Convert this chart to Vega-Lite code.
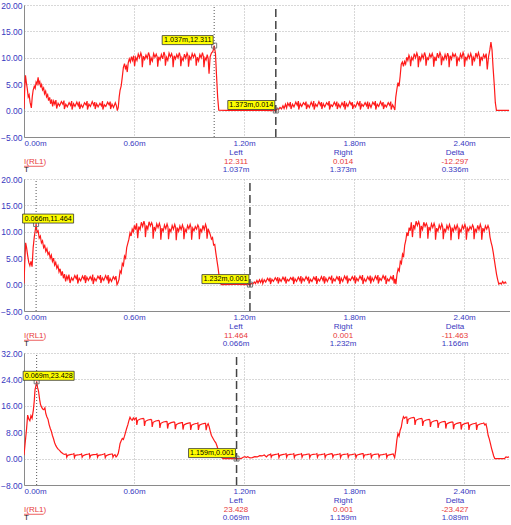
{
"$schema":"https://vega.github.io/schema/vega-lite/v6.json",
"padding":{"top":1,"left":0,"right":0,"bottom":0},
"background":"#ffffff",
"config":{"view":{"stroke":null},
"axis":{"labelFont":"Liberation Sans","labelColor":"#3838c0","domainColor":"#8a8a8a","domainWidth":1,"gridColor":"#b0b0b0","gridDash":[1,2],"gridWidth":1,"ticks":false,"labelPadding":2},
"axisX":{"labelFontSize":8},"axisY":{"labelFontSize":8.5},
"text":{"font":"Liberation Sans"}},
"datasets":{
"c1":[{"c":"L","t":1.037,"v":12.311,"lab":"1.037m,12.311"},{"c":"R","t":1.373,"v":0.014,"lab":"1.373m,0.014"}],
"c2":[{"c":"L","t":0.066,"v":11.464,"lab":"0.066m,11.464"},{"c":"R","t":1.232,"v":0.001,"lab":"1.232m,0.001"}],
"c3":[{"c":"L","t":0.069,"v":23.428,"lab":"0.069m,23.428"},{"c":"R","t":1.159,"v":0.001,"lab":"1.159m,0.001"}],
"r1":[{"col":"L","row":"h","k":"b","txt":"Left"},{"col":"L","row":"v","k":"r","txt":"12.311"},{"col":"L","row":"t","k":"b","txt":"1.037m"},{"col":"R","row":"h","k":"b","txt":"Right"},{"col":"R","row":"v","k":"r","txt":"0.014"},{"col":"R","row":"t","k":"b","txt":"1.373m"},{"col":"D","row":"h","k":"b","txt":"Delta"},{"col":"D","row":"v","k":"r","txt":"-12.297"},{"col":"D","row":"t","k":"b","txt":"0.336m"},{"col":"N","row":"v","k":"r","txt":"I(RL1)"},{"col":"N","row":"t","k":"d","txt":"T"}],
"r2":[{"col":"L","row":"h","k":"b","txt":"Left"},{"col":"L","row":"v","k":"r","txt":"11.464"},{"col":"L","row":"t","k":"b","txt":"0.066m"},{"col":"R","row":"h","k":"b","txt":"Right"},{"col":"R","row":"v","k":"r","txt":"0.001"},{"col":"R","row":"t","k":"b","txt":"1.232m"},{"col":"D","row":"h","k":"b","txt":"Delta"},{"col":"D","row":"v","k":"r","txt":"-11.463"},{"col":"D","row":"t","k":"b","txt":"1.166m"},{"col":"N","row":"v","k":"r","txt":"I(RL1)"},{"col":"N","row":"t","k":"d","txt":"T"}],
"r3":[{"col":"L","row":"h","k":"b","txt":"Left"},{"col":"L","row":"v","k":"r","txt":"23.428"},{"col":"L","row":"t","k":"b","txt":"0.069m"},{"col":"R","row":"h","k":"b","txt":"Right"},{"col":"R","row":"v","k":"r","txt":"0.001"},{"col":"R","row":"t","k":"b","txt":"1.159m"},{"col":"D","row":"h","k":"b","txt":"Delta"},{"col":"D","row":"v","k":"r","txt":"-23.427"},{"col":"D","row":"t","k":"b","txt":"1.089m"},{"col":"N","row":"v","k":"r","txt":"I(RL1)"},{"col":"N","row":"t","k":"d","txt":"T"}],
"w1":[{"t":0,"v":0.3},{"t":0.004,"v":4.2},{"t":0.008,"v":6.7},{"t":0.013,"v":5.3},{"t":0.018,"v":4.1},{"t":0.023,"v":2.6},{"t":0.028,"v":3.0},{"t":0.033,"v":1.6},{"t":0.040,"v":0.5},{"t":0.045,"v":2.6},{"t":0.050,"v":3.9},{"t":0.056,"v":4.6},{"t":0.061,"v":4.2},{"t":0.066,"v":5.4},{"t":0.071,"v":5.0},{"t":0.077,"v":6.3},{"t":0.081,"v":5.1},{"t":0.086,"v":5.5},{"t":0.091,"v":4.4},{"t":0.096,"v":4.9},{"t":0.101,"v":3.9},{"t":0.107,"v":4.3},{"t":0.112,"v":3.2},{"t":0.118,"v":3.7},{"t":0.123,"v":2.6},{"t":0.129,"v":3.0},{"t":0.134,"v":1.9},{"t":0.140,"v":2.5},{"t":0.145,"v":1.3},{"t":0.151,"v":2.1},{"t":0.156,"v":0.8},{"t":0.162,"v":1.8},{"t":0.168,"v":1.2},{"t":0.174,"v":2.0},
{"t":0.178,"v":0.4},{"t":0.186,"v":1.4},{"t":0.194,"v":0.9},{"t":0.204,"v":1.7},{"t":0.212,"v":1.2},{"t":0.218,"v":1.9},
{"t":0.220,"v":0.3},{"t":0.228,"v":1.2},{"t":0.236,"v":0.7},{"t":0.246,"v":1.5},{"t":0.254,"v":1.0},{"t":0.260,"v":1.8},
{"t":0.262,"v":0.2},{"t":0.270,"v":1.3},{"t":0.278,"v":0.8},{"t":0.288,"v":1.6},{"t":0.296,"v":0.9},{"t":0.302,"v":1.7},
{"t":0.304,"v":0.3},{"t":0.312,"v":1.1},{"t":0.320,"v":0.6},{"t":0.330,"v":1.5},{"t":0.338,"v":1.1},{"t":0.344,"v":1.8},
{"t":0.346,"v":0.2},{"t":0.354,"v":1.2},{"t":0.362,"v":0.8},{"t":0.372,"v":1.7},{"t":0.380,"v":1.0},{"t":0.386,"v":1.6},
{"t":0.388,"v":0.3},{"t":0.396,"v":1.3},{"t":0.404,"v":0.7},{"t":0.414,"v":1.4},{"t":0.422,"v":0.9},{"t":0.428,"v":1.8},
{"t":0.430,"v":0.2},{"t":0.438,"v":1.1},{"t":0.446,"v":0.8},{"t":0.456,"v":1.6},{"t":0.464,"v":1.1},{"t":0.470,"v":1.7},
{"t":0.472,"v":0.3},{"t":0.480,"v":1.2},{"t":0.488,"v":0.6},{"t":0.498,"v":1.5},{"t":0.504,"v":0.9},{"t":0.509,"v":0.0},
{"t":0.514,"v":0.6},{"t":0.519,"v":2.6},{"t":0.524,"v":3.9},{"t":0.530,"v":4.7},{"t":0.536,"v":6.4},{"t":0.542,"v":8.2},{"t":0.548,"v":8.9},{"t":0.553,"v":8.0},{"t":0.558,"v":8.4},{"t":0.563,"v":7.3},{"t":0.568,"v":9.0},{"t":0.574,"v":9.8},{"t":0.580,"v":9.2},{"t":0.586,"v":10.2},{"t":0.592,"v":9.5},{"t":0.598,"v":10.4},
{"t":0.603,"v":8.4},{"t":0.609,"v":10.1},{"t":0.616,"v":9.5},{"t":0.623,"v":10.7},{"t":0.630,"v":10.0},{"t":0.637,"v":10.9},{"t":0.642,"v":10.3},
{"t":0.645,"v":8.2},{"t":0.651,"v":10.3},{"t":0.658,"v":9.7},{"t":0.665,"v":10.5},{"t":0.672,"v":9.9},{"t":0.679,"v":11.0},{"t":0.684,"v":10.4},
{"t":0.687,"v":8.6},{"t":0.693,"v":10.0},{"t":0.700,"v":9.4},{"t":0.707,"v":10.8},{"t":0.714,"v":10.1},{"t":0.721,"v":10.7},{"t":0.726,"v":10.2},
{"t":0.729,"v":8.3},{"t":0.735,"v":10.2},{"t":0.742,"v":9.6},{"t":0.749,"v":10.6},{"t":0.756,"v":9.8},{"t":0.763,"v":11.1},{"t":0.768,"v":10.5},
{"t":0.771,"v":8.5},{"t":0.777,"v":10.1},{"t":0.784,"v":9.5},{"t":0.791,"v":10.9},{"t":0.798,"v":10.2},{"t":0.805,"v":10.8},{"t":0.810,"v":10.1},
{"t":0.813,"v":8.2},{"t":0.819,"v":10.4},{"t":0.826,"v":9.8},{"t":0.833,"v":10.6},{"t":0.840,"v":10.0},{"t":0.847,"v":11.0},{"t":0.852,"v":10.3},
{"t":0.855,"v":8.4},{"t":0.861,"v":10.0},{"t":0.868,"v":9.5},{"t":0.875,"v":10.7},{"t":0.882,"v":9.9},{"t":0.889,"v":10.9},{"t":0.894,"v":10.4},
{"t":0.897,"v":8.3},{"t":0.903,"v":10.2},{"t":0.910,"v":9.7},{"t":0.917,"v":10.8},{"t":0.924,"v":10.1},{"t":0.931,"v":10.7},{"t":0.936,"v":10.2},
{"t":0.939,"v":8.5},{"t":0.945,"v":10.1},{"t":0.952,"v":9.4},{"t":0.959,"v":10.6},{"t":0.966,"v":10.0},{"t":0.973,"v":11.0},{"t":0.978,"v":10.3},
{"t":0.981,"v":8.2},{"t":0.987,"v":10.0},{"t":0.993,"v":9.6},{"t":0.999,"v":10.6},{"t":1.004,"v":9.9},{"t":1.009,"v":7.0},{"t":1.015,"v":10.2},{"t":1.022,"v":10.9},{"t":1.030,"v":11.2},{"t":1.037,"v":12.311},{"t":1.044,"v":10.8},{"t":1.050,"v":6.5},{"t":1.056,"v":2.5},{"t":1.062,"v":0.1},{"t":1.100,"v":0.05},{"t":1.200,"v":0.03},{"t":1.300,"v":0.05},{"t":1.373,"v":0.014},
{"t":1.380,"v":0.4},{"t":1.388,"v":0.2},{"t":1.396,"v":0.6},{"t":1.404,"v":0.3},{"t":1.412,"v":0.9},{"t":1.418,"v":0.4},{"t":1.426,"v":1.2},{"t":1.432,"v":0.5},{"t":1.438,"v":1.4},{"t":1.446,"v":0.9},{"t":1.452,"v":1.6},
{"t":1.456,"v":0.3},{"t":1.464,"v":1.2},{"t":1.472,"v":0.7},{"t":1.482,"v":1.6},{"t":1.490,"v":1.0},{"t":1.496,"v":1.8},
{"t":1.498,"v":0.2},{"t":1.506,"v":1.3},{"t":1.514,"v":0.8},{"t":1.524,"v":1.5},{"t":1.532,"v":1.1},{"t":1.538,"v":1.7},
{"t":1.540,"v":0.3},{"t":1.548,"v":1.1},{"t":1.556,"v":0.6},{"t":1.566,"v":1.6},{"t":1.574,"v":0.9},{"t":1.580,"v":1.8},
{"t":1.582,"v":0.2},{"t":1.590,"v":1.2},{"t":1.598,"v":0.8},{"t":1.608,"v":1.7},{"t":1.616,"v":1.0},{"t":1.622,"v":1.6},
{"t":1.624,"v":0.3},{"t":1.632,"v":1.3},{"t":1.640,"v":0.7},{"t":1.650,"v":1.5},{"t":1.658,"v":1.1},{"t":1.664,"v":1.8},
{"t":1.666,"v":0.2},{"t":1.674,"v":1.1},{"t":1.682,"v":0.8},{"t":1.692,"v":1.6},{"t":1.700,"v":1.0},{"t":1.706,"v":1.7},
{"t":1.708,"v":0.3},{"t":1.716,"v":1.2},{"t":1.724,"v":0.6},{"t":1.734,"v":1.5},{"t":1.742,"v":0.9},{"t":1.748,"v":1.8},
{"t":1.750,"v":0.2},{"t":1.758,"v":1.3},{"t":1.766,"v":0.8},{"t":1.776,"v":1.7},{"t":1.784,"v":1.1},{"t":1.790,"v":1.6},
{"t":1.792,"v":0.3},{"t":1.800,"v":1.1},{"t":1.808,"v":0.7},{"t":1.818,"v":1.6},{"t":1.826,"v":1.0},{"t":1.832,"v":1.8},
{"t":1.834,"v":0.2},{"t":1.842,"v":1.2},{"t":1.850,"v":0.8},{"t":1.860,"v":1.5},{"t":1.868,"v":0.9},{"t":1.874,"v":1.7},
{"t":1.876,"v":0.3},{"t":1.884,"v":1.3},{"t":1.892,"v":0.6},{"t":1.902,"v":1.6},{"t":1.910,"v":1.1},{"t":1.916,"v":1.8},
{"t":1.918,"v":0.2},{"t":1.926,"v":1.2},{"t":1.934,"v":0.8},{"t":1.944,"v":1.7},{"t":1.952,"v":1.0},{"t":1.958,"v":1.6},
{"t":1.960,"v":0.3},{"t":1.968,"v":1.1},{"t":1.976,"v":0.7},{"t":1.986,"v":1.5},{"t":1.994,"v":1.0},{"t":2.000,"v":1.7},
{"t":2.002,"v":0.2},{"t":2.010,"v":1.1},{"t":2.017,"v":0.6},{"t":2.022,"v":0.1},
{"t":2.027,"v":2.5},{"t":2.033,"v":4.0},{"t":2.039,"v":5.3},{"t":2.045,"v":4.6},{"t":2.051,"v":6.5},{"t":2.057,"v":8.8},{"t":2.063,"v":9.2},{"t":2.069,"v":8.4},{"t":2.075,"v":9.3},{"t":2.081,"v":8.8},{"t":2.087,"v":10.1},{"t":2.093,"v":9.5},{"t":2.099,"v":10.5},{"t":2.104,"v":10.0},
{"t":2.108,"v":8.4},{"t":2.114,"v":10.1},{"t":2.121,"v":9.6},{"t":2.128,"v":10.8},{"t":2.135,"v":10.0},{"t":2.142,"v":10.9},{"t":2.147,"v":10.3},
{"t":2.150,"v":8.2},{"t":2.156,"v":10.3},{"t":2.163,"v":9.5},{"t":2.170,"v":10.6},{"t":2.177,"v":9.9},{"t":2.184,"v":11.0},{"t":2.189,"v":10.4},
{"t":2.192,"v":8.5},{"t":2.198,"v":10.0},{"t":2.205,"v":9.7},{"t":2.212,"v":10.7},{"t":2.219,"v":10.1},{"t":2.226,"v":10.8},{"t":2.231,"v":10.2},
{"t":2.234,"v":8.3},{"t":2.240,"v":10.2},{"t":2.247,"v":9.4},{"t":2.254,"v":10.9},{"t":2.261,"v":10.0},{"t":2.268,"v":11.0},{"t":2.273,"v":10.5},
{"t":2.276,"v":8.6},{"t":2.282,"v":10.1},{"t":2.289,"v":9.6},{"t":2.296,"v":10.6},{"t":2.303,"v":9.8},{"t":2.310,"v":10.9},{"t":2.315,"v":10.3},
{"t":2.318,"v":8.2},{"t":2.324,"v":10.4},{"t":2.331,"v":9.7},{"t":2.338,"v":10.8},{"t":2.345,"v":10.2},{"t":2.352,"v":10.7},{"t":2.357,"v":10.1},
{"t":2.360,"v":8.4},{"t":2.366,"v":10.0},{"t":2.373,"v":9.5},{"t":2.380,"v":10.7},{"t":2.387,"v":10.0},{"t":2.394,"v":11.0},{"t":2.399,"v":10.4},
{"t":2.402,"v":8.3},{"t":2.408,"v":10.2},{"t":2.415,"v":9.6},{"t":2.422,"v":10.6},{"t":2.429,"v":9.9},{"t":2.436,"v":10.8},{"t":2.441,"v":10.2},
{"t":2.444,"v":8.5},{"t":2.450,"v":10.1},{"t":2.457,"v":9.5},{"t":2.464,"v":10.9},{"t":2.471,"v":10.1},{"t":2.478,"v":11.0},{"t":2.483,"v":10.3},
{"t":2.486,"v":8.4},{"t":2.492,"v":10.2},{"t":2.499,"v":9.6},{"t":2.506,"v":10.6},{"t":2.513,"v":10.0},{"t":2.520,"v":10.8},{"t":2.526,"v":7.8},{"t":2.533,"v":10.2},{"t":2.540,"v":11.5},{"t":2.546,"v":13.0},{"t":2.552,"v":11.5},{"t":2.558,"v":8.0},{"t":2.564,"v":5.0},{"t":2.570,"v":1.5},{"t":2.576,"v":0.05},{"t":2.645,"v":0.05}],
"w2":[{"t":0,"v":0.2},{"t":0.004,"v":4.0},{"t":0.009,"v":7.9},{"t":0.014,"v":7.0},{"t":0.020,"v":5.5},{"t":0.026,"v":4.2},{"t":0.032,"v":3.6},{"t":0.038,"v":4.4},{"t":0.044,"v":3.4},{"t":0.050,"v":7.0},{"t":0.056,"v":9.0},{"t":0.061,"v":10.2},{"t":0.066,"v":11.464},{"t":0.071,"v":9.9},{"t":0.077,"v":10.2},{"t":0.083,"v":8.8},{"t":0.089,"v":9.2},{"t":0.095,"v":7.9},{"t":0.101,"v":8.3},{"t":0.107,"v":7.0},{"t":0.113,"v":7.4},{"t":0.119,"v":6.3},{"t":0.125,"v":6.8},{"t":0.131,"v":5.7},{"t":0.137,"v":6.1},{"t":0.143,"v":5.0},{"t":0.149,"v":5.6},{"t":0.155,"v":4.4},{"t":0.161,"v":5.0},{"t":0.167,"v":3.7},{"t":0.173,"v":4.2},{"t":0.179,"v":3.1},{"t":0.185,"v":3.6},{"t":0.191,"v":2.4},{"t":0.197,"v":3.0},{"t":0.203,"v":1.7},{"t":0.209,"v":2.5},{"t":0.215,"v":1.2},{"t":0.221,"v":2.0},{"t":0.227,"v":0.6},{"t":0.233,"v":1.6},{"t":0.239,"v":1.0},{"t":0.245,"v":1.9},
{"t":0.251,"v":0.3},{"t":0.259,"v":1.3},{"t":0.267,"v":0.8},{"t":0.277,"v":1.7},{"t":0.285,"v":1.1},{"t":0.291,"v":1.9},
{"t":0.293,"v":0.2},{"t":0.301,"v":1.2},{"t":0.309,"v":0.7},{"t":0.319,"v":1.6},{"t":0.327,"v":1.0},{"t":0.333,"v":1.8},
{"t":0.335,"v":0.3},{"t":0.343,"v":1.4},{"t":0.351,"v":0.8},{"t":0.361,"v":1.5},{"t":0.369,"v":0.9},{"t":0.375,"v":1.9},
{"t":0.377,"v":0.1},{"t":0.385,"v":1.2},{"t":0.393,"v":0.7},{"t":0.403,"v":1.6},{"t":0.411,"v":1.1},{"t":0.417,"v":1.8},
{"t":0.419,"v":0.3},{"t":0.427,"v":1.3},{"t":0.435,"v":0.8},{"t":0.445,"v":1.7},{"t":0.453,"v":1.0},{"t":0.459,"v":1.8},
{"t":0.461,"v":0.2},{"t":0.469,"v":1.2},{"t":0.477,"v":0.6},{"t":0.487,"v":1.5},{"t":0.495,"v":1.0},{"t":0.501,"v":1.6},
{"t":0.507,"v":0.0},
{"t":0.512,"v":0.3},{"t":0.518,"v":1.0},{"t":0.524,"v":2.6},{"t":0.530,"v":2.2},{"t":0.536,"v":4.0},{"t":0.542,"v":3.6},{"t":0.548,"v":5.4},{"t":0.554,"v":5.0},{"t":0.560,"v":7.0},{"t":0.566,"v":7.8},{"t":0.572,"v":8.6},{"t":0.578,"v":9.8},{"t":0.584,"v":9.2},{"t":0.590,"v":10.5},{"t":0.596,"v":10.0},{"t":0.602,"v":11.2},{"t":0.608,"v":10.4},{"t":0.614,"v":11.6},
{"t":0.620,"v":8.8},{"t":0.626,"v":11.0},{"t":0.633,"v":10.4},{"t":0.640,"v":11.8},{"t":0.647,"v":11.0},{"t":0.654,"v":12.0},{"t":0.659,"v":11.3},
{"t":0.662,"v":9.0},{"t":0.668,"v":11.2},{"t":0.675,"v":10.5},{"t":0.682,"v":11.9},{"t":0.689,"v":11.1},{"t":0.696,"v":11.7},{"t":0.701,"v":11.2},
{"t":0.704,"v":8.7},{"t":0.710,"v":10.9},{"t":0.717,"v":10.3},{"t":0.724,"v":11.5},{"t":0.731,"v":10.8},{"t":0.738,"v":11.6},{"t":0.743,"v":11.0},
{"t":0.746,"v":8.5},{"t":0.752,"v":10.7},{"t":0.759,"v":10.1},{"t":0.766,"v":11.3},{"t":0.773,"v":10.6},{"t":0.780,"v":11.5},{"t":0.785,"v":10.9},
{"t":0.788,"v":8.6},{"t":0.794,"v":10.6},{"t":0.801,"v":10.0},{"t":0.808,"v":11.2},{"t":0.815,"v":10.5},{"t":0.822,"v":11.4},{"t":0.827,"v":10.8},
{"t":0.830,"v":8.4},{"t":0.836,"v":10.8},{"t":0.843,"v":10.1},{"t":0.850,"v":11.1},{"t":0.857,"v":10.4},{"t":0.864,"v":11.3},{"t":0.869,"v":10.7},
{"t":0.872,"v":8.6},{"t":0.878,"v":10.5},{"t":0.885,"v":10.0},{"t":0.892,"v":11.2},{"t":0.899,"v":10.6},{"t":0.906,"v":11.4},{"t":0.911,"v":10.8},
{"t":0.914,"v":8.5},{"t":0.920,"v":10.7},{"t":0.927,"v":10.2},{"t":0.934,"v":11.0},{"t":0.941,"v":10.5},{"t":0.948,"v":11.3},{"t":0.953,"v":10.9},
{"t":0.956,"v":8.6},{"t":0.962,"v":10.6},{"t":0.969,"v":10.0},{"t":0.976,"v":11.2},{"t":0.983,"v":10.4},{"t":0.990,"v":11.4},{"t":0.995,"v":10.8},
{"t":0.998,"v":8.7},{"t":1.004,"v":10.6},{"t":1.010,"v":10.0},{"t":1.016,"v":9.4},{"t":1.022,"v":8.6},{"t":1.028,"v":8.9},{"t":1.034,"v":7.5},{"t":1.040,"v":7.6},{"t":1.046,"v":6.0},{"t":1.052,"v":4.6},{"t":1.058,"v":3.2},{"t":1.064,"v":1.6},{"t":1.070,"v":0.3},{"t":1.076,"v":0.0},{"t":1.150,"v":0.02},{"t":1.232,"v":0.001},
{"t":1.240,"v":0.2},{"t":1.248,"v":0.1},{"t":1.256,"v":0.5},{"t":1.262,"v":0.2},{"t":1.270,"v":0.8},{"t":1.276,"v":0.3},{"t":1.284,"v":0.9},{"t":1.290,"v":0.4},{"t":1.298,"v":1.0},
{"t":1.302,"v":0.2},{"t":1.310,"v":0.9},{"t":1.318,"v":0.5},{"t":1.328,"v":1.2},{"t":1.336,"v":0.7},{"t":1.342,"v":1.3},
{"t":1.344,"v":0.1},{"t":1.352,"v":1.0},{"t":1.360,"v":0.6},{"t":1.370,"v":1.3},{"t":1.378,"v":0.8},{"t":1.384,"v":1.4},
{"t":1.386,"v":0.2},{"t":1.394,"v":1.1},{"t":1.402,"v":0.6},{"t":1.412,"v":1.4},{"t":1.420,"v":0.8},{"t":1.426,"v":1.5},
{"t":1.428,"v":0.2},{"t":1.436,"v":1.0},{"t":1.444,"v":0.7},{"t":1.454,"v":1.3},{"t":1.462,"v":0.9},{"t":1.468,"v":1.5},
{"t":1.470,"v":0.1},{"t":1.478,"v":1.1},{"t":1.486,"v":0.6},{"t":1.496,"v":1.4},{"t":1.504,"v":0.8},{"t":1.510,"v":1.6},
{"t":1.512,"v":0.2},{"t":1.520,"v":1.2},{"t":1.528,"v":0.7},{"t":1.538,"v":1.5},{"t":1.546,"v":0.9},{"t":1.552,"v":1.5},
{"t":1.554,"v":0.2},{"t":1.562,"v":1.0},{"t":1.570,"v":0.6},{"t":1.580,"v":1.4},{"t":1.588,"v":0.9},{"t":1.594,"v":1.6},
{"t":1.596,"v":0.1},{"t":1.604,"v":1.1},{"t":1.612,"v":0.7},{"t":1.622,"v":1.5},{"t":1.630,"v":0.8},{"t":1.636,"v":1.6},
{"t":1.638,"v":0.2},{"t":1.646,"v":1.2},{"t":1.654,"v":0.6},{"t":1.664,"v":1.4},{"t":1.672,"v":1.0},{"t":1.678,"v":1.7},
{"t":1.680,"v":0.2},{"t":1.688,"v":1.1},{"t":1.696,"v":0.7},{"t":1.706,"v":1.5},{"t":1.714,"v":0.9},{"t":1.720,"v":1.6},
{"t":1.722,"v":0.1},{"t":1.730,"v":1.2},{"t":1.738,"v":0.6},{"t":1.748,"v":1.6},{"t":1.756,"v":1.0},{"t":1.762,"v":1.7},
{"t":1.764,"v":0.2},{"t":1.772,"v":1.1},{"t":1.780,"v":0.8},{"t":1.790,"v":1.5},{"t":1.798,"v":0.9},{"t":1.804,"v":1.7},
{"t":1.806,"v":0.2},{"t":1.814,"v":1.2},{"t":1.822,"v":0.7},{"t":1.832,"v":1.6},{"t":1.840,"v":1.0},{"t":1.846,"v":1.8},
{"t":1.848,"v":0.1},{"t":1.856,"v":1.1},{"t":1.864,"v":0.6},{"t":1.874,"v":1.5},{"t":1.882,"v":0.9},{"t":1.888,"v":1.7},
{"t":1.890,"v":0.2},{"t":1.898,"v":1.3},{"t":1.906,"v":0.7},{"t":1.916,"v":1.6},{"t":1.924,"v":1.0},{"t":1.930,"v":1.8},
{"t":1.932,"v":0.2},{"t":1.940,"v":1.2},{"t":1.948,"v":0.8},{"t":1.958,"v":1.7},{"t":1.966,"v":1.1},{"t":1.972,"v":1.7},
{"t":1.974,"v":0.1},{"t":1.982,"v":1.1},{"t":1.990,"v":0.7},{"t":2.000,"v":1.5},{"t":2.008,"v":1.0},{"t":2.014,"v":1.8},
{"t":2.018,"v":0.2},{"t":2.023,"v":1.1},{"t":2.028,"v":0.1},
{"t":2.034,"v":2.0},{"t":2.040,"v":3.0},{"t":2.046,"v":2.6},{"t":2.052,"v":4.4},{"t":2.058,"v":4.0},{"t":2.064,"v":5.8},{"t":2.070,"v":5.4},{"t":2.076,"v":7.5},{"t":2.082,"v":8.4},{"t":2.088,"v":9.9},{"t":2.094,"v":9.2},{"t":2.100,"v":10.8},{"t":2.106,"v":10.2},{"t":2.112,"v":11.8},
{"t":2.118,"v":9.0},{"t":2.124,"v":11.3},{"t":2.131,"v":10.6},{"t":2.138,"v":12.0},{"t":2.145,"v":11.2},{"t":2.152,"v":11.9},{"t":2.157,"v":11.3},
{"t":2.160,"v":8.8},{"t":2.166,"v":11.1},{"t":2.173,"v":10.4},{"t":2.180,"v":11.8},{"t":2.187,"v":11.0},{"t":2.194,"v":11.6},{"t":2.199,"v":11.1},
{"t":2.202,"v":8.7},{"t":2.208,"v":10.9},{"t":2.215,"v":10.3},{"t":2.222,"v":11.5},{"t":2.229,"v":10.8},{"t":2.236,"v":11.6},{"t":2.241,"v":11.0},
{"t":2.244,"v":8.5},{"t":2.250,"v":10.7},{"t":2.257,"v":10.1},{"t":2.264,"v":11.3},{"t":2.271,"v":10.6},{"t":2.278,"v":11.5},{"t":2.283,"v":10.9},
{"t":2.286,"v":8.6},{"t":2.292,"v":10.6},{"t":2.299,"v":10.0},{"t":2.306,"v":11.2},{"t":2.313,"v":10.5},{"t":2.320,"v":11.4},{"t":2.325,"v":10.8},
{"t":2.328,"v":8.4},{"t":2.334,"v":10.8},{"t":2.341,"v":10.1},{"t":2.348,"v":11.1},{"t":2.355,"v":10.4},{"t":2.362,"v":11.3},{"t":2.367,"v":10.7},
{"t":2.370,"v":8.6},{"t":2.376,"v":10.5},{"t":2.383,"v":10.0},{"t":2.390,"v":11.2},{"t":2.397,"v":10.6},{"t":2.404,"v":11.4},{"t":2.409,"v":10.8},
{"t":2.412,"v":8.5},{"t":2.418,"v":10.7},{"t":2.425,"v":10.2},{"t":2.432,"v":11.0},{"t":2.439,"v":10.5},{"t":2.446,"v":11.3},{"t":2.451,"v":10.9},
{"t":2.454,"v":8.6},{"t":2.460,"v":10.6},{"t":2.467,"v":10.0},{"t":2.474,"v":11.2},{"t":2.481,"v":10.4},{"t":2.488,"v":11.4},{"t":2.493,"v":10.8},
{"t":2.496,"v":8.5},{"t":2.502,"v":10.7},{"t":2.509,"v":10.1},{"t":2.516,"v":11.1},{"t":2.523,"v":10.5},{"t":2.530,"v":11.2},{"t":2.535,"v":10.7},
{"t":2.541,"v":9.0},{"t":2.547,"v":8.0},{"t":2.553,"v":7.2},{"t":2.559,"v":6.0},{"t":2.565,"v":4.6},{"t":2.571,"v":3.2},{"t":2.577,"v":1.9},{"t":2.583,"v":0.9},{"t":2.589,"v":0.1},{"t":2.596,"v":0.3},{"t":2.603,"v":0.1},{"t":2.610,"v":0.6},{"t":2.617,"v":0.2},{"t":2.624,"v":0.5},{"t":2.630,"v":0.2}],
"w3":[{"t":0,"v":1.0},{"t":0.006,"v":4.5},{"t":0.014,"v":9.0},{"t":0.020,"v":13.2},{"t":0.026,"v":12.0},{"t":0.032,"v":11.5},{"t":0.038,"v":13.0},{"t":0.044,"v":12.2},{"t":0.051,"v":14.7},{"t":0.056,"v":17.5},{"t":0.060,"v":20.8},{"t":0.065,"v":22.0},{"t":0.069,"v":23.428},{"t":0.074,"v":21.5},{"t":0.079,"v":20.5},{"t":0.085,"v":18.0},{"t":0.090,"v":16.4},{"t":0.096,"v":15.6},{"t":0.102,"v":15.0},{"t":0.108,"v":14.8},{"t":0.114,"v":15.4},{"t":0.119,"v":13.6},{"t":0.125,"v":12.6},{"t":0.131,"v":11.9},{"t":0.137,"v":10.3},{"t":0.143,"v":9.2},{"t":0.149,"v":8.3},{"t":0.155,"v":7.0},{"t":0.161,"v":6.0},{"t":0.167,"v":4.8},{"t":0.173,"v":4.0},{"t":0.180,"v":3.3},{"t":0.187,"v":2.8},{"t":0.194,"v":2.5},{"t":0.201,"v":2.0},{"t":0.208,"v":1.7},{"t":0.215,"v":1.4},{"t":0.222,"v":1.3},
{"t":0.230,"v":1.4},{"t":0.233,"v":0.4},{"t":0.238,"v":1.0},{"t":0.252,"v":1.2},{"t":0.268,"v":1.4},
{"t":0.272,"v":1.5},{"t":0.275,"v":0.3},{"t":0.280,"v":1.0},{"t":0.294,"v":1.1},{"t":0.310,"v":1.3},
{"t":0.314,"v":1.4},{"t":0.317,"v":0.4},{"t":0.322,"v":0.9},{"t":0.336,"v":1.2},{"t":0.352,"v":1.4},
{"t":0.356,"v":1.5},{"t":0.359,"v":0.3},{"t":0.364,"v":1.0},{"t":0.378,"v":1.2},{"t":0.394,"v":1.3},
{"t":0.398,"v":1.4},{"t":0.401,"v":0.4},{"t":0.406,"v":1.0},{"t":0.420,"v":1.1},{"t":0.436,"v":1.4},
{"t":0.440,"v":1.5},{"t":0.443,"v":0.3},{"t":0.448,"v":0.9},{"t":0.462,"v":1.2},{"t":0.478,"v":1.4},
{"t":0.482,"v":1.4},{"t":0.485,"v":0.4},{"t":0.490,"v":1.0},{"t":0.496,"v":1.2},{"t":0.502,"v":0.5},{"t":0.508,"v":0.9},
{"t":0.514,"v":1.6},{"t":0.519,"v":3.0},{"t":0.524,"v":4.6},{"t":0.530,"v":5.4},{"t":0.536,"v":6.1},{"t":0.542,"v":5.8},{"t":0.548,"v":6.8},{"t":0.554,"v":8.0},{"t":0.560,"v":9.2},{"t":0.566,"v":10.2},{"t":0.572,"v":11.5},{"t":0.578,"v":12.5},{"t":0.584,"v":11.9},{"t":0.590,"v":11.6},{"t":0.596,"v":12.3},{"t":0.602,"v":11.8},{"t":0.608,"v":12.2},
{"t":0.612,"v":12.3},{"t":0.615,"v":10.2},{"t":0.620,"v":11.6},{"t":0.634,"v":12.0},{"t":0.650,"v":12.2},
{"t":0.654,"v":12.0},{"t":0.657,"v":9.9},{"t":0.662,"v":11.3},{"t":0.676,"v":11.7},{"t":0.692,"v":11.9},
{"t":0.696,"v":11.7},{"t":0.699,"v":9.6},{"t":0.704,"v":11.0},{"t":0.718,"v":11.4},{"t":0.734,"v":11.6},
{"t":0.738,"v":11.4},{"t":0.741,"v":9.3},{"t":0.746,"v":10.7},{"t":0.760,"v":11.1},{"t":0.776,"v":11.3},
{"t":0.780,"v":11.2},{"t":0.783,"v":9.1},{"t":0.788,"v":10.5},{"t":0.802,"v":10.9},{"t":0.818,"v":11.1},
{"t":0.822,"v":11.0},{"t":0.825,"v":8.9},{"t":0.830,"v":10.3},{"t":0.844,"v":10.7},{"t":0.860,"v":10.9},
{"t":0.864,"v":10.9},{"t":0.867,"v":8.8},{"t":0.872,"v":10.2},{"t":0.886,"v":10.6},{"t":0.902,"v":10.8},
{"t":0.906,"v":10.8},{"t":0.909,"v":8.7},{"t":0.914,"v":10.1},{"t":0.928,"v":10.5},{"t":0.944,"v":10.7},
{"t":0.948,"v":10.8},{"t":0.951,"v":8.7},{"t":0.956,"v":10.1},{"t":0.970,"v":10.5},{"t":0.986,"v":10.7},
{"t":0.990,"v":10.7},{"t":0.993,"v":8.6},{"t":0.998,"v":10.0},
{"t":1.004,"v":10.6},{"t":1.010,"v":9.6},{"t":1.016,"v":8.2},{"t":1.022,"v":7.0},{"t":1.028,"v":6.4},{"t":1.034,"v":5.8},{"t":1.040,"v":5.2},{"t":1.046,"v":4.8},{"t":1.052,"v":3.9},{"t":1.058,"v":2.8},{"t":1.064,"v":1.8},{"t":1.070,"v":1.0},{"t":1.078,"v":0.3},{"t":1.086,"v":0.0},{"t":1.159,"v":0.001},{"t":1.170,"v":0.0},{"t":1.185,"v":0.05},{"t":1.195,"v":0.4},{"t":1.205,"v":0.6},{"t":1.212,"v":0.3},{"t":1.220,"v":0.6},{"t":1.232,"v":0.2},{"t":1.245,"v":0.3},{"t":1.258,"v":0.6},{"t":1.272,"v":0.5},{"t":1.285,"v":0.9},{"t":1.298,"v":0.8},{"t":1.310,"v":1.1},{"t":1.322,"v":0.5},{"t":1.330,"v":1.0},{"t":1.340,"v":1.2},
{"t":1.345,"v":1.4},{"t":1.348,"v":0.4},{"t":1.353,"v":1.0},{"t":1.367,"v":1.2},{"t":1.383,"v":1.4},
{"t":1.387,"v":1.5},{"t":1.390,"v":0.3},{"t":1.395,"v":1.0},{"t":1.409,"v":1.2},{"t":1.425,"v":1.4},
{"t":1.429,"v":1.5},{"t":1.432,"v":0.4},{"t":1.437,"v":1.1},{"t":1.451,"v":1.3},{"t":1.467,"v":1.4},
{"t":1.471,"v":1.5},{"t":1.474,"v":0.3},{"t":1.479,"v":1.0},{"t":1.493,"v":1.2},{"t":1.509,"v":1.4},
{"t":1.513,"v":1.5},{"t":1.516,"v":0.4},{"t":1.521,"v":1.1},{"t":1.535,"v":1.2},{"t":1.551,"v":1.4},
{"t":1.555,"v":1.4},{"t":1.558,"v":0.3},{"t":1.563,"v":1.0},{"t":1.577,"v":1.3},{"t":1.593,"v":1.4},
{"t":1.597,"v":1.5},{"t":1.600,"v":0.4},{"t":1.605,"v":1.1},{"t":1.619,"v":1.2},{"t":1.635,"v":1.4},
{"t":1.639,"v":1.5},{"t":1.642,"v":0.3},{"t":1.647,"v":1.0},{"t":1.661,"v":1.3},{"t":1.677,"v":1.5},
{"t":1.681,"v":1.4},{"t":1.684,"v":0.4},{"t":1.689,"v":1.1},{"t":1.703,"v":1.2},{"t":1.719,"v":1.4},
{"t":1.723,"v":1.5},{"t":1.726,"v":0.3},{"t":1.731,"v":1.0},{"t":1.745,"v":1.3},{"t":1.761,"v":1.4},
{"t":1.765,"v":1.5},{"t":1.768,"v":0.4},{"t":1.773,"v":1.1},{"t":1.787,"v":1.2},{"t":1.803,"v":1.4},
{"t":1.807,"v":1.4},{"t":1.810,"v":0.3},{"t":1.815,"v":1.0},{"t":1.829,"v":1.3},{"t":1.845,"v":1.5},
{"t":1.849,"v":1.5},{"t":1.852,"v":0.4},{"t":1.857,"v":1.1},{"t":1.871,"v":1.2},{"t":1.887,"v":1.4},
{"t":1.891,"v":1.5},{"t":1.894,"v":0.3},{"t":1.899,"v":1.0},{"t":1.913,"v":1.3},{"t":1.929,"v":1.4},
{"t":1.933,"v":1.4},{"t":1.936,"v":0.4},{"t":1.941,"v":1.1},{"t":1.955,"v":1.2},{"t":1.971,"v":1.4},
{"t":1.975,"v":1.5},{"t":1.978,"v":0.3},{"t":1.983,"v":1.0},{"t":1.997,"v":1.2},{"t":2.013,"v":1.4},
{"t":2.021,"v":0.3},{"t":2.027,"v":2.5},{"t":2.033,"v":5.6},{"t":2.039,"v":7.6},{"t":2.045,"v":6.8},{"t":2.051,"v":8.6},{"t":2.057,"v":9.5},{"t":2.063,"v":11.5},{"t":2.069,"v":12.7},{"t":2.075,"v":12.2},{"t":2.081,"v":12.6},
{"t":2.087,"v":12.6},{"t":2.090,"v":10.5},{"t":2.095,"v":11.9},{"t":2.109,"v":12.3},{"t":2.125,"v":12.5},
{"t":2.129,"v":12.3},{"t":2.132,"v":10.2},{"t":2.137,"v":11.6},{"t":2.151,"v":12.0},{"t":2.167,"v":12.2},
{"t":2.171,"v":12.0},{"t":2.174,"v":9.9},{"t":2.179,"v":11.3},{"t":2.193,"v":11.7},{"t":2.209,"v":11.9},
{"t":2.213,"v":11.7},{"t":2.216,"v":9.6},{"t":2.221,"v":11.0},{"t":2.235,"v":11.4},{"t":2.251,"v":11.6},
{"t":2.255,"v":11.4},{"t":2.258,"v":9.3},{"t":2.263,"v":10.7},{"t":2.277,"v":11.1},{"t":2.293,"v":11.3},
{"t":2.297,"v":11.2},{"t":2.300,"v":9.1},{"t":2.305,"v":10.5},{"t":2.319,"v":10.9},{"t":2.335,"v":11.1},
{"t":2.339,"v":11.0},{"t":2.342,"v":8.9},{"t":2.347,"v":10.3},{"t":2.361,"v":10.7},{"t":2.377,"v":10.9},
{"t":2.381,"v":10.9},{"t":2.384,"v":8.8},{"t":2.389,"v":10.2},{"t":2.403,"v":10.6},{"t":2.419,"v":10.8},
{"t":2.423,"v":10.8},{"t":2.426,"v":8.7},{"t":2.431,"v":10.1},{"t":2.445,"v":10.5},{"t":2.461,"v":10.7},
{"t":2.465,"v":10.8},{"t":2.468,"v":8.7},{"t":2.473,"v":10.1},{"t":2.487,"v":10.5},{"t":2.503,"v":10.7},
{"t":2.507,"v":10.8},{"t":2.513,"v":10.2},{"t":2.519,"v":10.5},{"t":2.525,"v":9.0},{"t":2.531,"v":7.0},{"t":2.537,"v":6.0},{"t":2.543,"v":4.6},{"t":2.549,"v":3.2},{"t":2.555,"v":2.0},{"t":2.561,"v":0.8},{"t":2.567,"v":0.0},{"t":2.620,"v":0.0},{"t":2.628,"v":0.5},{"t":2.636,"v":0.4},{"t":2.645,"v":0.5}]
},
"bounds":"flush",
"spacing":6,
"vconcat":[
{"width":486,"height":132,
"encoding":{
"x":{"field":"t","type":"quantitative","title":null,"scale":{"domain":[0,2.65],"nice":false,"zero":false},"axis":{"values":[0,0.6,1.2,1.8,2.4],"labelExpr":"format(datum.value,'.2f')+'m'","labelFlush":true,"grid":true}},
"y":{"field":"v","type":"quantitative","title":null,"scale":{"domain":[-5,20],"nice":false,"zero":false},"axis":{"values":[-5,0,5,10,15,20],"format":".2f","grid":true}}},
"layer":[
{"data":{"name":"w1"},"mark":{"type":"line","color":"#ff1a1a","strokeWidth":1.2,"clip":true}},
{"data":{"values":[{}]},"mark":{"type":"rule","color":"#a8a8a8","strokeWidth":2},"encoding":{"x":{"datum":0},"x2":{"datum":2.65},"y":{"datum":20}}},
{"data":{"name":"c1"},"transform":[{"filter":"datum.c=='L'"}],"mark":{"type":"rule","color":"#555555","strokeDash":[1,2],"strokeWidth":1},"encoding":{"y":{"datum":-5},"y2":{"datum":20}}},
{"data":{"name":"c1"},"transform":[{"filter":"datum.c=='R'"}],"mark":{"type":"rule","color":"#444444","strokeDash":[8,4],"strokeWidth":1.5},"encoding":{"y":{"datum":-5},"y2":{"datum":20}}},
{"data":{"name":"c1"},"mark":{"type":"point","shape":"square","filled":false,"color":"#777777","size":25,"strokeWidth":1,"opacity":1}},
{"data":{"name":"c1"},"transform":[{"filter":"datum.c=='L'"}],"mark":{"type":"point","shape":"M-52,-10H-1V-1H-52Z","size":4,"filled":true,"fill":"#ffff00","stroke":"#333333","strokeWidth":0.8,"opacity":1}},
{"data":{"name":"c1"},"transform":[{"filter":"datum.c=='L'"}],"mark":{"type":"text","dx":-26.5,"dy":-5.5,"fontSize":7.2,"color":"#000000"},"encoding":{"text":{"field":"lab"}}},
{"data":{"name":"c1"},"transform":[{"filter":"datum.c=='R'"}],"mark":{"type":"point","shape":"M-48,-10H-1V-1H-48Z","size":4,"filled":true,"fill":"#ffff00","stroke":"#333333","strokeWidth":0.8,"opacity":1}},
{"data":{"name":"c1"},"transform":[{"filter":"datum.c=='R'"}],"mark":{"type":"text","dx":-24.5,"dy":-5.5,"fontSize":7.2,"color":"#000000"},"encoding":{"text":{"field":"lab"}}},
{"data":{"values":[{"n":"1"}]},"mark":{"type":"text","fontSize":8,"color":"#333333"},"encoding":{"x":{"datum":0.05},"y":{"datum":18},"text":{"field":"n"}}}
]},
{"width":486,"height":30,"data":{"name":"r1"},
"encoding":{"y":{"field":"row","type":"ordinal","scale":{"type":"point","domain":["h","v","t"],"padding":0.724,"align":0.8},"axis":null},"text":{"field":"txt"},"color":{"field":"k","type":"nominal","scale":{"domain":["b","r","d"],"range":["#3838c0","#e83a3a","#222222"]},"legend":null}},
"layer":[
{"transform":[{"filter":"datum.col=='L'"}],"mark":{"type":"text","fontSize":8},"encoding":{"x":{"datum":1.156,"type":"quantitative","scale":{"domain":[0,2.65],"nice":false,"zero":false},"axis":null}}},
{"transform":[{"filter":"datum.col=='R'"}],"mark":{"type":"text","fontSize":8},"encoding":{"x":{"datum":1.74,"type":"quantitative"}}},
{"transform":[{"filter":"datum.col=='D'"}],"mark":{"type":"text","fontSize":8},"encoding":{"x":{"datum":2.35,"type":"quantitative"}}},
{"transform":[{"filter":"datum.col=='N'"}],"mark":{"type":"text","fontSize":8,"align":"left"},"encoding":{"x":{"datum":0,"type":"quantitative"}}},
{"transform":[{"filter":"datum.txt=='I(RL1)'"}],"mark":{"type":"rule","strokeWidth":0.8,"yOffset":4.5},"encoding":{"x":{"datum":0,"type":"quantitative"},"x2":{"datum":0.107},"text":null}}
]},
{"width":486,"height":132,
"encoding":{
"x":{"field":"t","type":"quantitative","title":null,"scale":{"domain":[0,2.65],"nice":false,"zero":false},"axis":{"values":[0,0.6,1.2,1.8,2.4],"labelExpr":"format(datum.value,'.2f')+'m'","labelFlush":true,"grid":true}},
"y":{"field":"v","type":"quantitative","title":null,"scale":{"domain":[-5,20],"nice":false,"zero":false},"axis":{"values":[-5,0,5,10,15,20],"format":".2f","grid":true}}},
"layer":[
{"data":{"name":"w2"},"mark":{"type":"line","color":"#ff1a1a","strokeWidth":1.2,"clip":true}},
{"data":{"name":"c2"},"transform":[{"filter":"datum.c=='L'"}],"mark":{"type":"rule","color":"#555555","strokeDash":[1,2],"strokeWidth":1},"encoding":{"y":{"datum":-5},"y2":{"datum":20}}},
{"data":{"name":"c2"},"transform":[{"filter":"datum.c=='R'"}],"mark":{"type":"rule","color":"#444444","strokeDash":[8,4],"strokeWidth":1.5},"encoding":{"y":{"datum":-5},"y2":{"datum":20}}},
{"data":{"name":"c2"},"mark":{"type":"point","shape":"square","filled":false,"color":"#777777","size":25,"strokeWidth":1,"opacity":1}},
{"data":{"name":"c2"},"transform":[{"filter":"datum.c=='L'"}],"mark":{"type":"point","shape":"M-13.5,-10H37.5V-1H-13.5Z","size":4,"filled":true,"fill":"#ffff00","stroke":"#333333","strokeWidth":0.8,"opacity":1}},
{"data":{"name":"c2"},"transform":[{"filter":"datum.c=='L'"}],"mark":{"type":"text","dx":12,"dy":-5.5,"fontSize":7.2,"color":"#000000"},"encoding":{"text":{"field":"lab"}}},
{"data":{"name":"c2"},"transform":[{"filter":"datum.c=='R'"}],"mark":{"type":"point","shape":"M-48,-10H-1V-1H-48Z","size":4,"filled":true,"fill":"#ffff00","stroke":"#333333","strokeWidth":0.8,"opacity":1}},
{"data":{"name":"c2"},"transform":[{"filter":"datum.c=='R'"}],"mark":{"type":"text","dx":-24.5,"dy":-5.5,"fontSize":7.2,"color":"#000000"},"encoding":{"text":{"field":"lab"}}},
{"data":{"values":[{"n":"2"}]},"mark":{"type":"text","fontSize":8,"color":"#333333"},"encoding":{"x":{"datum":0.13},"y":{"datum":17.9},"text":{"field":"n"}}}
]},
{"width":486,"height":30,"data":{"name":"r2"},
"encoding":{"y":{"field":"row","type":"ordinal","scale":{"type":"point","domain":["h","v","t"],"padding":0.724,"align":0.8},"axis":null},"text":{"field":"txt"},"color":{"field":"k","type":"nominal","scale":{"domain":["b","r","d"],"range":["#3838c0","#e83a3a","#222222"]},"legend":null}},
"layer":[
{"transform":[{"filter":"datum.col=='L'"}],"mark":{"type":"text","fontSize":8},"encoding":{"x":{"datum":1.156,"type":"quantitative","scale":{"domain":[0,2.65],"nice":false,"zero":false},"axis":null}}},
{"transform":[{"filter":"datum.col=='R'"}],"mark":{"type":"text","fontSize":8},"encoding":{"x":{"datum":1.74,"type":"quantitative"}}},
{"transform":[{"filter":"datum.col=='D'"}],"mark":{"type":"text","fontSize":8},"encoding":{"x":{"datum":2.35,"type":"quantitative"}}},
{"transform":[{"filter":"datum.col=='N'"}],"mark":{"type":"text","fontSize":8,"align":"left"},"encoding":{"x":{"datum":0,"type":"quantitative"}}},
{"transform":[{"filter":"datum.txt=='I(RL1)'"}],"mark":{"type":"rule","strokeWidth":0.8,"yOffset":4.5},"encoding":{"x":{"datum":0,"type":"quantitative"},"x2":{"datum":0.107},"text":null}}
]},
{"width":486,"height":132,
"encoding":{
"x":{"field":"t","type":"quantitative","title":null,"scale":{"domain":[0,2.65],"nice":false,"zero":false},"axis":{"values":[0,0.6,1.2,1.8,2.4],"labelExpr":"format(datum.value,'.2f')+'m'","labelFlush":true,"grid":true}},
"y":{"field":"v","type":"quantitative","title":null,"scale":{"domain":[-8,32],"nice":false,"zero":false},"axis":{"values":[-8,0,8,16,24,32],"format":".2f","grid":true}}},
"layer":[
{"data":{"name":"w3"},"mark":{"type":"line","color":"#ff1a1a","strokeWidth":1.2,"clip":true}},
{"data":{"name":"c3"},"transform":[{"filter":"datum.c=='L'"}],"mark":{"type":"rule","color":"#555555","strokeDash":[1,2],"strokeWidth":1},"encoding":{"y":{"datum":-8},"y2":{"datum":32}}},
{"data":{"name":"c3"},"transform":[{"filter":"datum.c=='R'"}],"mark":{"type":"rule","color":"#444444","strokeDash":[8,4],"strokeWidth":1.5},"encoding":{"y":{"datum":-8},"y2":{"datum":32}}},
{"data":{"name":"c3"},"mark":{"type":"point","shape":"square","filled":false,"color":"#777777","size":25,"strokeWidth":1,"opacity":1}},
{"data":{"name":"c3"},"transform":[{"filter":"datum.c=='L'"}],"mark":{"type":"point","shape":"M-13.5,-10H37.5V-1H-13.5Z","size":4,"filled":true,"fill":"#ffff00","stroke":"#333333","strokeWidth":0.8,"opacity":1}},
{"data":{"name":"c3"},"transform":[{"filter":"datum.c=='L'"}],"mark":{"type":"text","dx":12,"dy":-5.5,"fontSize":7.2,"color":"#000000"},"encoding":{"text":{"field":"lab"}}},
{"data":{"name":"c3"},"transform":[{"filter":"datum.c=='R'"}],"mark":{"type":"point","shape":"M-48,-10H-1V-1H-48Z","size":4,"filled":true,"fill":"#ffff00","stroke":"#333333","strokeWidth":0.8,"opacity":1}},
{"data":{"name":"c3"},"transform":[{"filter":"datum.c=='R'"}],"mark":{"type":"text","dx":-24.5,"dy":-5.5,"fontSize":7.2,"color":"#000000"},"encoding":{"text":{"field":"lab"}}},
{"data":{"values":[{"n":"3"}]},"mark":{"type":"text","fontSize":8,"color":"#333333"},"encoding":{"x":{"datum":0.125},"y":{"datum":30},"text":{"field":"n"}}}
]},
{"width":486,"height":30,"data":{"name":"r3"},
"encoding":{"y":{"field":"row","type":"ordinal","scale":{"type":"point","domain":["h","v","t"],"padding":0.724,"align":0.8},"axis":null},"text":{"field":"txt"},"color":{"field":"k","type":"nominal","scale":{"domain":["b","r","d"],"range":["#3838c0","#e83a3a","#222222"]},"legend":null}},
"layer":[
{"transform":[{"filter":"datum.col=='L'"}],"mark":{"type":"text","fontSize":8},"encoding":{"x":{"datum":1.156,"type":"quantitative","scale":{"domain":[0,2.65],"nice":false,"zero":false},"axis":null}}},
{"transform":[{"filter":"datum.col=='R'"}],"mark":{"type":"text","fontSize":8},"encoding":{"x":{"datum":1.74,"type":"quantitative"}}},
{"transform":[{"filter":"datum.col=='D'"}],"mark":{"type":"text","fontSize":8},"encoding":{"x":{"datum":2.35,"type":"quantitative"}}},
{"transform":[{"filter":"datum.col=='N'"}],"mark":{"type":"text","fontSize":8,"align":"left"},"encoding":{"x":{"datum":0,"type":"quantitative"}}},
{"transform":[{"filter":"datum.txt=='I(RL1)'"}],"mark":{"type":"rule","strokeWidth":0.8,"yOffset":4.5},"encoding":{"x":{"datum":0,"type":"quantitative"},"x2":{"datum":0.107},"text":null}}
]}
]
}
